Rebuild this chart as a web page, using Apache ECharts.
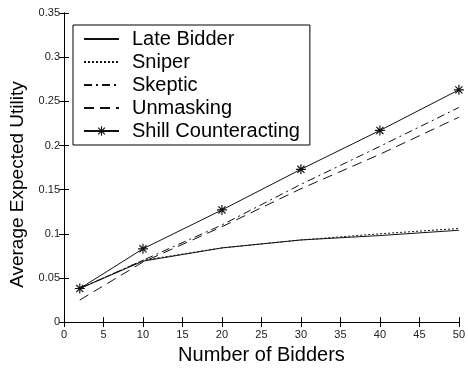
<!DOCTYPE html>
<html><head><meta charset="utf-8">
<script src="https://cdn.jsdelivr.net/npm/echarts@6/dist/echarts.min.js"></script>
<style>html,body{margin:0;padding:0;background:#fff}#c{width:468px;height:370px}</style>
</head><body><div id="c"></div>
<script>
const bidders = [2, 10, 20, 30, 40, 50];
const lateBidder = [0.038, 0.069, 0.084, 0.093, 0.098, 0.104];
const sniper = [0.038, 0.070, 0.084, 0.093, 0.100, 0.106];
const skeptic = [0.038, 0.070, 0.110, 0.156, 0.199, 0.243];
const unmasking = [0.025, 0.068, 0.108, 0.151, 0.190, 0.232];
const shill = [0.038, 0.083, 0.127, 0.173, 0.217, 0.263];
const seriesNames = ['Late Bidder', 'Sniper', 'Skeptic', 'Unmasking', 'Shill Counteracting'];
const xTicks = [0, 5, 10, 15, 20, 25, 30, 35, 40, 45, 50];
const yTicks = [0, 0.05, 0.1, 0.15, 0.2, 0.25, 0.3, 0.35];

const star = 'path://M-0.7,-6 L0.7,-6 L0.7,6 L-0.7,6 Z M-6,-0.7 L6,-0.7 L6,0.7 L-6,0.7 Z M-4.74,-3.75 L-3.75,-4.74 L4.74,3.75 L3.75,4.74 Z M3.75,-4.74 L4.74,-3.75 L-3.75,4.74 L-4.74,3.75 Z';
const pair = arr => bidders.map((b, i) => [b, arr[i]]);
const font = '"Liberation Sans", Arial, sans-serif';
const dashes = ['solid', [2, 2], [8, 4, 2, 4], [10, 6], 'solid'];
const values = [lateBidder, sniper, skeptic, unmasking, shill];

const series = values.map((v, i) => ({
  name: seriesNames[i], type: 'line', data: pair(v),
  showSymbol: i === 4, symbol: i === 4 ? star : 'none', symbolSize: 10,
  itemStyle: {color: '#111'},
  lineStyle: {color: '#111', width: 1, type: dashes[i]},
  animation: false, z: 10 - i
}));

const axisCommon = {
  axisLine: {lineStyle: {color: '#000', width: 1}},
  axisTick: {inside: true, length: 5, lineStyle: {color: '#000'}},
  splitLine: {show: false}
};

const chart = echarts.init(document.getElementById('c'));
chart.setOption({
  backgroundColor: '#fff',
  animation: false,
  grid: {left: 64, right: 5, top: 13, bottom: 44},
  legend: {
    orient: 'vertical', left: 73, top: 25,
    data: seriesNames.map((n, i) => i === 4 ? {name: n} : {name: n, itemStyle: {opacity: 0}}),
    itemWidth: 35, itemHeight: 12, itemGap: 3,
    padding: [4, 10, 4, 10],
    borderColor: '#000', borderWidth: 1, backgroundColor: '#fff',
    textStyle: {fontFamily: font, fontSize: 20, color: '#000', lineHeight: 18, padding: [0, 0, 0, 8]}
  },
  xAxis: [
    Object.assign({
      type: 'value', min: 0, max: 50, interval: 5,
      name: 'Number of Bidders', nameLocation: 'middle', nameGap: 22,
      nameTextStyle: {fontFamily: font, fontSize: 20, color: '#000'},
      axisLabel: {fontFamily: font, fontSize: 11, color: '#222', margin: 7,
        formatter: v => xTicks.includes(v) ? String(v) : ''}
    }, axisCommon),
    Object.assign({
      type: 'value', min: 0, max: 50, interval: 5, position: 'top',
      axisLabel: {show: false}
    }, axisCommon)
  ],
  yAxis: [
    Object.assign({
      type: 'value', min: 0, max: 0.35, interval: 0.05,
      name: 'Average Expected Utility', nameLocation: 'middle', nameGap: 31,
      nameTextStyle: {fontFamily: font, fontSize: 19, color: '#000', padding: [0, 34, 0, 0]},
      axisLabel: {fontFamily: font, fontSize: 11, color: '#222', margin: 4,
        formatter: v => { const t = yTicks.find(y => Math.abs(y - v) < 1e-9); return t === undefined ? '' : String(+t.toFixed(2)); }}
    }, axisCommon),
    Object.assign({
      type: 'value', min: 0, max: 0.35, interval: 0.05, position: 'right',
      axisLabel: {show: false}
    }, axisCommon)
  ],
  series: series
});
</script></body></html>
